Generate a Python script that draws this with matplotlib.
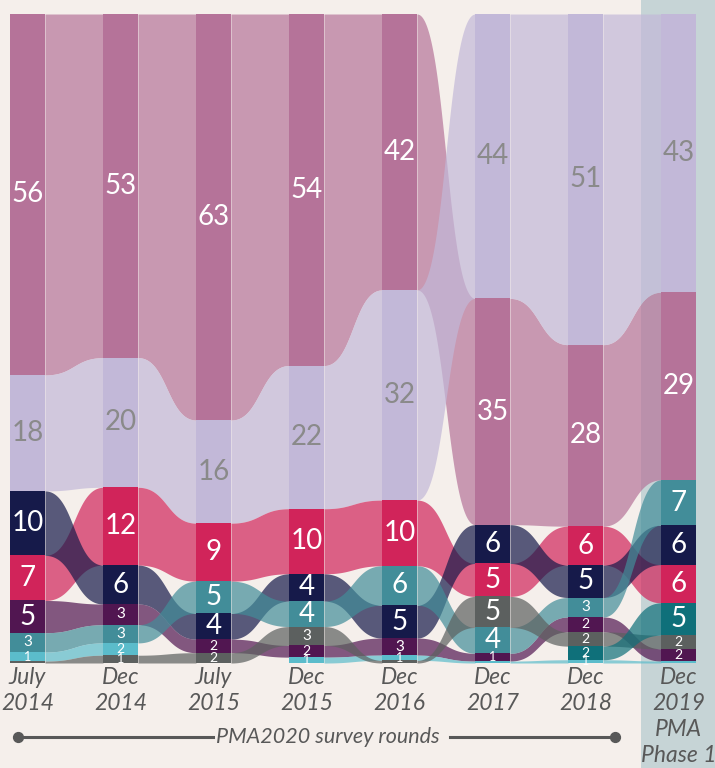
"""Alluvial chart of method-mix shares across PMA survey rounds."""

import numpy as np
import matplotlib.pyplot as plt

nan = np.nan

# survey rounds (x axis)
rounds = ["July\n2014", "Dec\n2014", "July\n2015", "Dec\n2015",
          "Dec\n2016", "Dec\n2017", "Dec\n2018", "Dec\n2019\nPMA\nPhase 1"]

# shares (%) per category; nan = not present in that round
mauve = [56, 53, 63, 54, 42, 35, 28, 29]
lavender = [18, 20, 16, 22, 32, 44, 51, 43]
crimson = [7, 12, 9, 10, 10, 5.1, 6, 5.9]
navy = [10, 6, 4, 4.2, 5, 6, 5, 6.1]
purple = [5, 3.2, 2.1, 1.8, 2.6, 1.2, 2.3, 1.9]
teal = [3, 2.8, 5, 3.9, 6, 4, 3, 7]
cyan = [1.4, 1.9, nan, 0.9, 0.8, 0.3, 0.5, 0.3]
gray = [0.3, 1.2, 1.6, 2.9, 0.4, 4.8, 2.2, 2.1]
darkteal = [nan, nan, nan, nan, nan, nan, 2.1, 5]

series = [
    (mauve, "#b57399", "white"),
    (lavender, "#c2b8d8", "#8a8a8a"),
    (crimson, "#d1245a", "white"),
    (navy, "#161a4a", "white"),
    (purple, "#511651", "white"),
    (teal, "#428d99", "white"),
    (cyan, "#5bbccb", "white"),
    (gray, "#5c605f", "white"),
    (darkteal, "#0f707a", "white"),
]

BG = "#f5efeb"
PANEL = "#c6d4d6"
TXT = "#585858"
HW = 0.188  # half column width (data units)

plt.rcParams["font.family"] = ["Lato", "DejaVu Sans"]

fig = plt.figure(figsize=(7.15, 7.68), dpi=100, facecolor=BG)
ax = fig.add_axes([0, 0, 1, 1])
ax.set_facecolor(BG)
ax.set_xlim(-27.5 / 93, (715 - 27.5) / 93)
ax.set_ylim((663 - 768) / 6.49, 663 / 6.49)
ax.axis("off")

# PMA Phase 1 panel
ax.axvspan((641 - 27.5) / 93, 10, color=PANEL, zorder=0, lw=0)

n = len(rounds)
vals = np.array([s[0] for s in series], dtype=float)
# stack per column: largest on top, each column scaled to 100
bottoms = np.full(vals.shape, nan)
tops = np.full(vals.shape, nan)
for j in range(n):
    col = vals[:, j]
    present = [k for k in range(len(series)) if not np.isnan(col[k])]
    total = sum(col[k] for k in present)
    y = 0.0
    for k in sorted(present, key=lambda k: col[k]):
        h = col[k] / total * 100
        bottoms[k, j] = y
        tops[k, j] = y + h
        y += h

# ribbons between neighbouring rounds
t = np.linspace(0, 1, 80)
fx = 1.5 * t * (1 - t) + t ** 3
fy = 3 * t ** 2 - 2 * t ** 3
for k, (_, color, _) in enumerate(series):
    for j in range(n - 1):
        if np.isnan(tops[k, j]) or np.isnan(tops[k, j + 1]):
            continue
        x0, x1 = j + HW, j + 1 - HW
        xs = x0 + (x1 - x0) * fx
        yt = tops[k, j] + (tops[k, j + 1] - tops[k, j]) * fy
        yb = bottoms[k, j] + (bottoms[k, j + 1] - bottoms[k, j]) * fy
        ax.fill_between(xs, yb, yt, color=color, alpha=0.7, lw=0, zorder=2)

# columns and value labels
for k, (_, color, lab_color) in enumerate(series):
    for j in range(n):
        if np.isnan(tops[k, j]):
            continue
        h = tops[k, j] - bottoms[k, j]
        ax.bar(j, h, bottom=bottoms[k, j], width=2 * HW, color=color,
               lw=0, zorder=3)
        v = int(vals[k, j] + 0.5)
        if v < 1:
            continue
        fs = 20 if v >= 4 else {1: 9, 2: 10, 3: 11}[v]
        ax.text(j, bottoms[k, j] + h / 2, str(v), ha="center", va="center",
                fontsize=fs, color=lab_color, zorder=4)

# round labels
for j, lab in enumerate(rounds):
    ax.text(j, (663 - 667) / 6.49, lab, ha="center", va="top", fontsize=16.5,
            style="italic", color=TXT, linespacing=1.3, zorder=4)

# "PMA2020 survey rounds" bracket
yb = (663 - 737) / 6.49
xa, xb = (18 - 27.5) / 93, (615 - 27.5) / 93
ax.plot([xa, (213 - 27.5) / 93], [yb, yb], color=TXT, lw=2.2, zorder=4)
ax.plot([(450 - 27.5) / 93, xb], [yb, yb], color=TXT, lw=2.2, zorder=4)
ax.scatter([xa, xb], [yb, yb], s=50, color=TXT, zorder=5)
ax.text((328 - 27.5) / 93, yb, "PMA2020 survey rounds", ha="center",
        va="center", fontsize=15.5, style="italic", color=TXT, zorder=4)

fig.savefig("out.png", dpi=100, facecolor=BG)
